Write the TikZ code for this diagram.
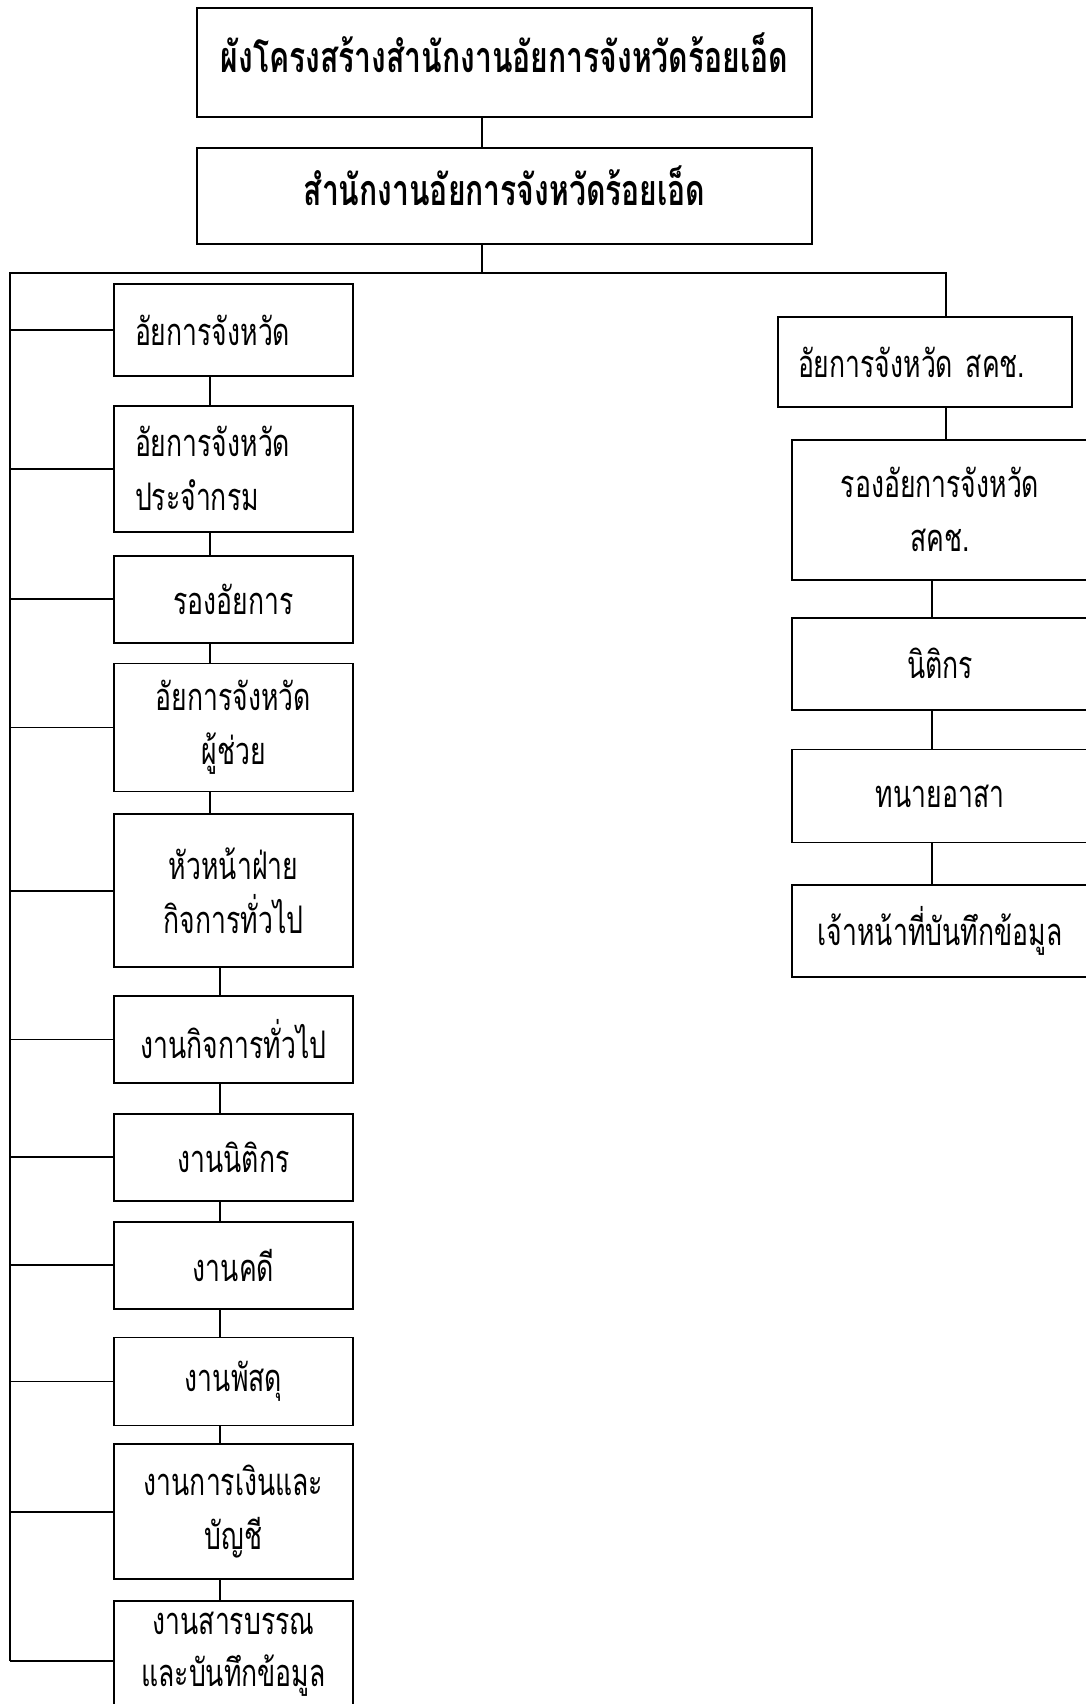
\documentclass[tikz,border=0pt]{standalone}
\usepackage{fontspec}
\newfontfamily\thaifont[Script=Thai, FakeStretch=0.7]{Loma}
\usepackage{tikz}
\usetikzlibrary{positioning}
\tikzset{
  headbox/.style={draw=black, line width=1.8pt, align=center, inner sep=0pt, text width=615pt, minimum height=96pt, text depth=20pt, font=\thaifont\bfseries\fontsize{43}{50}\selectfont},
  unitbox/.style={draw=black, line width=1.8pt, align=center, inner sep=0pt, text width=239pt, font=\thaifont\fontsize{38}{54}\selectfont},
  leftbox/.style={unitbox, align=left, text width=197pt, inner xsep=21pt},
  sidebox/.style={unitbox, text width=296pt},
  link/.style={line width=1.8pt}
}

\begin{document}
\begin{tikzpicture}[x=1pt, y=-1pt, node distance=22pt]
\useasboundingbox (0,0) rectangle (1085,1704);
\node[headbox, minimum height=109pt] (chart) at (504.5,62.5) {ผังโครงสร้างสำนักงานอัยการจังหวัดร้อยเอ็ด};
\node[headbox, below=29pt of chart] (office) {สำนักงานอัยการจังหวัดร้อยเอ็ด};
% left column
\node[leftbox, minimum height=92pt] (a1) at (233.5,330) {อัยการจังหวัด};
\node[leftbox, minimum height=126pt, below=28pt of a1] (a2) {อัยการจังหวัด\\ประจำกรม};
\node[unitbox, minimum height=87pt, below=22pt of a2] (a3) {รองอัยการ};
\node[unitbox, minimum height=128pt, below=19pt of a3] (a4) {อัยการจังหวัด\\ผู้ช่วย};
\node[unitbox, minimum height=153pt, below=21pt of a4] (a5) {หัวหน้าฝ่าย\\กิจการทั่วไป};
\node[unitbox, minimum height=87pt, below=27pt of a5] (a6) {งานกิจการทั่วไป};
\node[unitbox, minimum height=87pt, below=29pt of a6] (a7) {งานนิติกร};
\node[unitbox, minimum height=87pt, below=19pt of a7] (a8) {งานคดี};
\node[unitbox, minimum height=88pt, below=27pt of a8] (a9) {งานพัสดุ};
\node[unitbox, minimum height=135pt, below=17pt of a9] (a10) {งานการเงินและ\\บัญชี};
\node[unitbox, minimum height=120pt, text depth=76pt, font=\thaifont\fontsize{38}{52}\selectfont, below=20pt of a10] (a11) {งานสารบรรณ\\และบันทึกข้อมูล};
% right column
\node[unitbox, align=left, text width=254pt, inner xsep=20pt, minimum height=90pt] (r1) at (925,362) {อัยการจังหวัด สคช.};
\node[sidebox, minimum height=140pt, below=31pt of r1, xshift=15pt] (r2) {รองอัยการจังหวัด\\สคช.};
\node[sidebox, minimum height=92pt, below=36pt of r2] (r3) {นิติกร};
\node[sidebox, minimum height=93pt, below=38pt of r3] (r4) {ทนายอาสา};
\node[sidebox, minimum height=92pt, below=41pt of r4] (r5) {เจ้าหน้าที่บันทึกข้อมูล};
% bus lines
\coordinate (busL) at (10,273);
\coordinate (busR) at (946,273);
\coordinate (stemT) at (482,0);
\coordinate (stemA) at (210,0);
\coordinate (stemB) at (220,0);
\coordinate (stemC) at (932,0);
\draw[link] (chart.south -| stemT) -- (office.north -| stemT);
\draw[link] (office.south -| stemT) -- (stemT |- busL);
\draw[link] (busL |- a11.west) -- (busL) -- (busR) -- (r1.north -| busR);
\foreach \n in {1,...,11}
  \draw[link] (busL |- a\n.west) -- (a\n.west);
\foreach \u/\v in {a1/a2,a2/a3,a3/a4,a4/a5}
  \draw[link] (\u.south -| stemA) -- (\v.north -| stemA);
\foreach \u/\v in {a5/a6,a6/a7,a7/a8,a8/a9,a9/a10,a10/a11}
  \draw[link] (\u.south -| stemB) -- (\v.north -| stemB);
\draw[link] (r1.south -| busR) -- (r2.north -| busR);
\foreach \u/\v in {r2/r3,r3/r4,r4/r5}
  \draw[link] (\u.south -| stemC) -- (\v.north -| stemC);
\end{tikzpicture}
\end{document}
